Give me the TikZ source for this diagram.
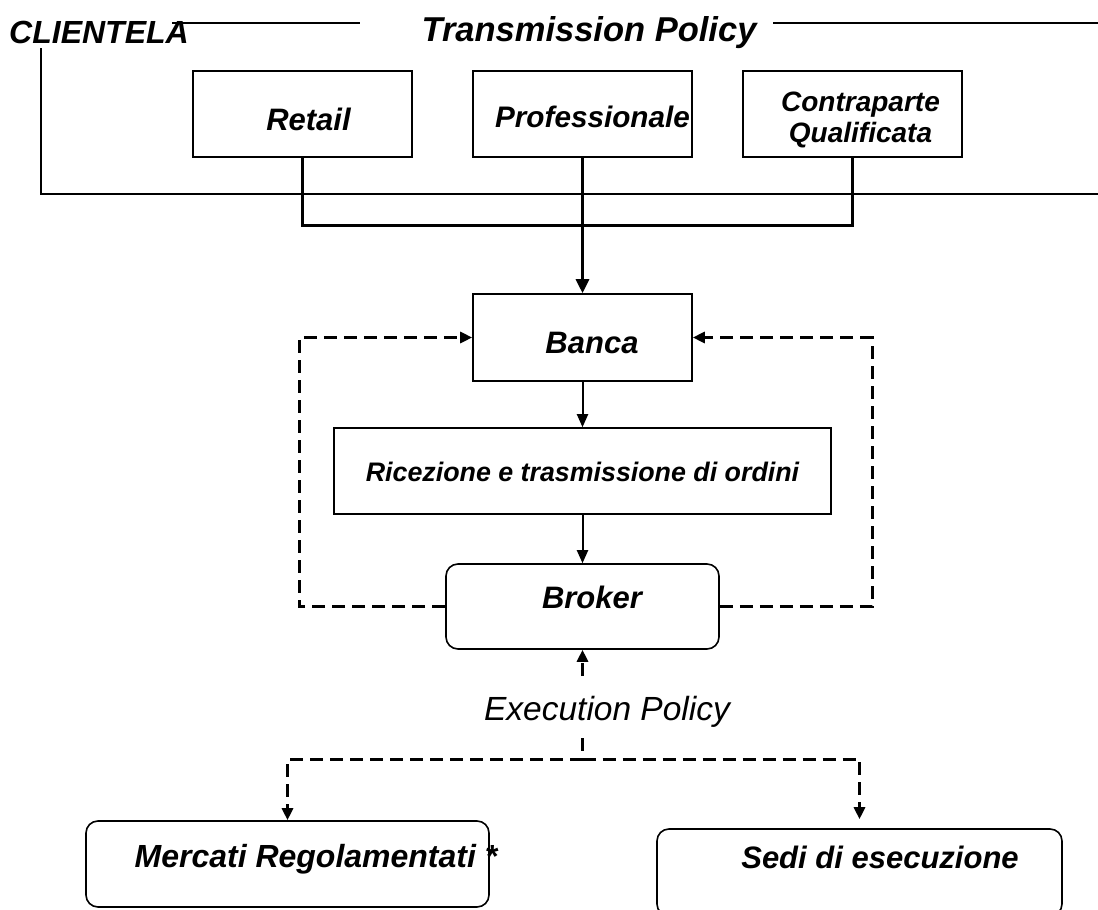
\documentclass[tikz,border=0pt]{standalone}
\usepackage{fontspec}
\setmainfont{Liberation Sans}
\usetikzlibrary{arrows.meta}
\newcommand\setfs[1]{\fontsize{#1}{#1}\selectfont}
\newcommand\offtext[2]{\makebox[0pt]{\hspace*{#1}#2}}
\newcommand\liftline[2]{\raisebox{#1}[0pt][0pt]{\makebox[0pt]{#2}}}
\tikzset{
  box/.style={draw, line width=1.6pt, inner sep=0pt},
  rbox/.style={box, rounded corners=12pt},
  bi/.style={font=\bfseries\itshape\setfs{#1}},
  conn/.style={line width=3pt},
  sarrow/.style={line width=2pt, -{Triangle[length=13pt,width=11pt]}},
  dsh/.style={line width=3pt, dash pattern=on 13pt off 7pt},
  darrow/.style={dsh, -{Triangle[length=12pt,width=11pt]}},
  frameline/.style={line width=1.5pt},
}
\begin{document}
\begin{tikzpicture}[x=1pt, y=-1pt]
\useasboundingbox (0,0) rectangle (1098,910);
\clip (0,0) rectangle (1098,910);

% titles
\node[anchor=base west, inner sep=0pt, bi=32] (cl) at (9,43) {CLIENTELA};
\node[anchor=base, inner sep=0pt, bi=34.5] (title) at (589,41) {Transmission Policy};
\draw[frameline] (172,23) -- (360,23);
\draw[frameline] (773,23) -- (1098,23);
\draw[frameline] (41,48) |- (1098,194);

% client boxes
\node[box, minimum width=219pt, minimum height=86pt, text height=32pt, text depth=0pt, bi=31] (retail) at (302.5,114) {\offtext{12pt}{Retail}};
\node[box, minimum width=219pt, minimum height=86pt, text height=26pt, text depth=0pt, bi=29.7] (prof) at (582.5,114) {\offtext{20pt}{Professionale}};
\node[box, minimum width=219pt, minimum height=86pt, bi=28] (cq) at (852.5,114) {\offtext{16pt}{\liftline{3pt}{Contraparte}\liftline{-28pt}{Qualificata}}};

% bank chain
\node[box, minimum width=219pt, minimum height=87pt, text height=31pt, text depth=0pt, bi=31] (banca) at (582.5,337.5) {\offtext{19pt}{Banca}};
\node[box, minimum width=497pt, minimum height=86pt, text height=20pt, text depth=0pt, bi=26.8] (ric) at (582.5,471) {Ricezione e trasmissione di ordini};
\node[rbox, minimum width=273pt, minimum height=85pt, text height=3pt, text depth=0pt, bi=31] (broker) at (582.5,606.5) {\offtext{19pt}{Broker}};

% execution
\node[anchor=base, inner sep=0pt, font=\itshape\setfs{33.5}] (ep) at (607,720) {Execution Policy};
\node[rbox, minimum width=403pt, minimum height=86pt, text height=6pt, text depth=0pt, bi=32] (merc) at (287.5,864) {\offtext{57pt}{Mercati Regolamentati *}};
\node[rbox, minimum width=405pt, minimum height=87pt, text height=0pt, text depth=9pt, bi=31] (sedi) at (859.5,872.5) {\offtext{41pt}{Sedi di esecuzione}};

% connectors top
\coordinate (J) at (582.5,225);
\draw[conn] (retail.south) |- (J) -| (cq.south);
\draw[conn, -{Triangle[length=14pt,width=13pt]}] (prof.south) -- (banca.north);
\draw[sarrow] (banca.south) -- (ric.north);
\draw[sarrow] (ric.south) -- (broker.north);

% dashed feedback loops
\coordinate (LL) at (299,0);
\coordinate (RR) at (872,0);
\draw[darrow] (broker.west) -- (broker.west -| LL) |- (banca.west);
\draw[darrow] (broker.east) -- (broker.east -| RR) |- (banca.east);

% execution policy connectors
\coordinate (epTop) at (582.5,676);
\coordinate (epBot) at (582.5,738);
\coordinate (fork) at (582.5,759);
\draw[darrow] (epTop) -- (broker.south);
\draw[dsh] (epBot) -- (fork);
\draw[darrow] (fork) -| (merc.north);
\draw[darrow] (fork) -| ([yshift=9pt]sedi.north);
\end{tikzpicture}
\end{document}
